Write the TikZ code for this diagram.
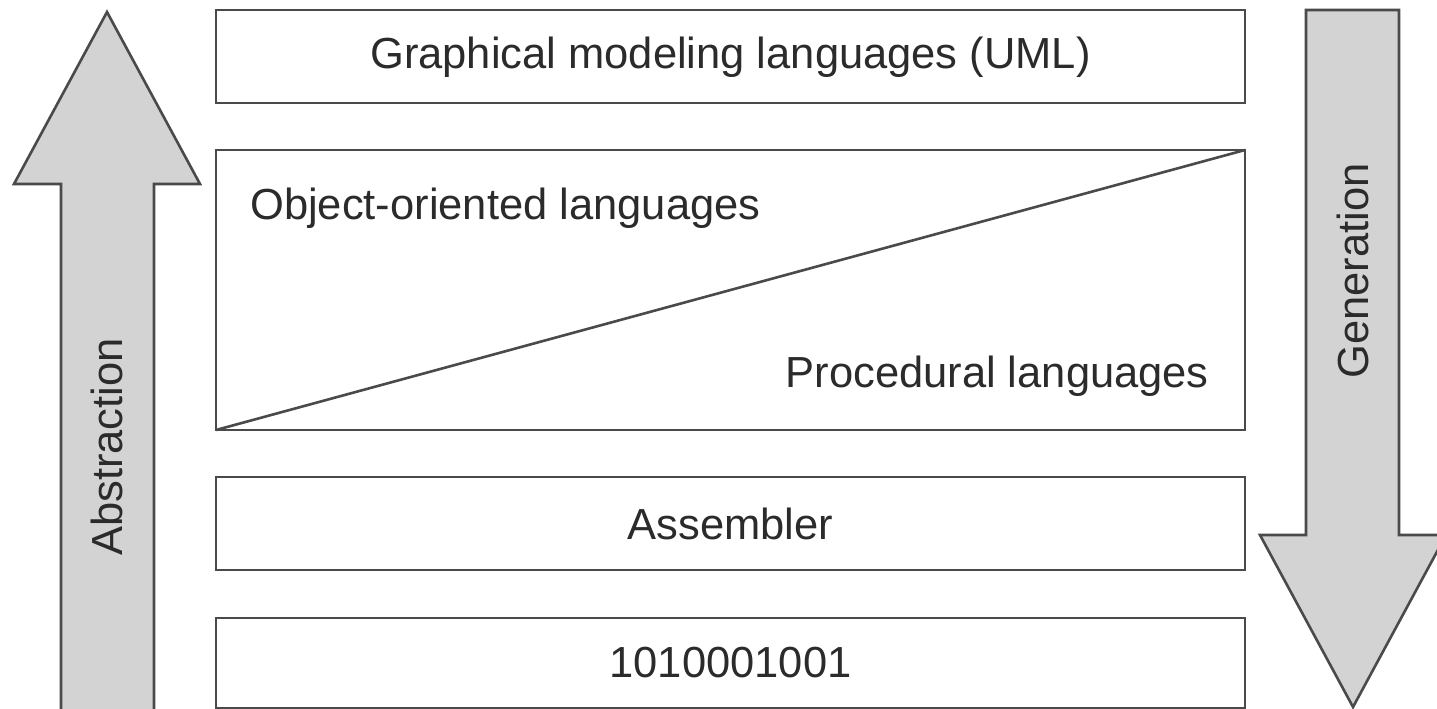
\documentclass[tikz,border=0pt]{standalone}
\usepackage{fontspec}
\setmainfont{Liberation Sans}
\begin{document}
\begin{tikzpicture}[x=1pt,y=-1pt,
  layer/.style={draw=linegray, line width=2.6pt, fill=white},
  bigarrow/.style={draw=linegray, line width=2.6pt, fill=arrowfill, line join=miter},
  label/.style={font=\fontsize{43.5}{50}\selectfont, text=textgray, inner sep=0pt}]
\definecolor{linegray}{HTML}{4A4A4A}
\definecolor{arrowfill}{HTML}{D3D3D3}
\definecolor{textgray}{HTML}{2B2B2B}
\useasboundingbox (0,0) rectangle (1437,709);
\clip (0,0) rectangle (1437,709);
\fill[white] (0,0) rectangle (1437,709);

% upward arrow: abstraction
\draw[bigarrow] (61,720) -- (61,184) -- (14,184) -- (107,12) -- (200,184) -- (154,184) -- (154,720);
\node[label, rotate=90] (abs) at (107,447) {Abstraction};

% downward arrow: generation
\draw[bigarrow] (1306,10) -- (1399,10) -- (1399,535) -- (1446,535) -- (1353,707) -- (1260,535) -- (1306,535) -- cycle;
\node[label, rotate=90] (gen) at (1353,271) {Generation};

% language layers
\draw[layer] (216,10) rectangle (1245,103);
\node[label] (uml) at (730.5,57) {Graphical modeling languages (UML)};

\draw[layer] (216,150) rectangle (1245,430);
\coordinate (oolow) at (216,430);
\coordinate (oohigh) at (1245,150);
\draw[draw=linegray, line width=2.6pt] (oolow) -- (oohigh);
\node[label, anchor=base west] (oo) at (250,219) {Object-oriented languages};
\node[label, anchor=base east] (proc) at (1209,387) {Procedural languages};

\draw[layer] (216,477) rectangle (1245,570);
\node[label] (asm) at (730.5,524) {Assembler};

\draw[layer] (216,618) rectangle (1245,708);
\node[label] (bin) at (730.5,663) {1010001001};
\end{tikzpicture}
\end{document}
